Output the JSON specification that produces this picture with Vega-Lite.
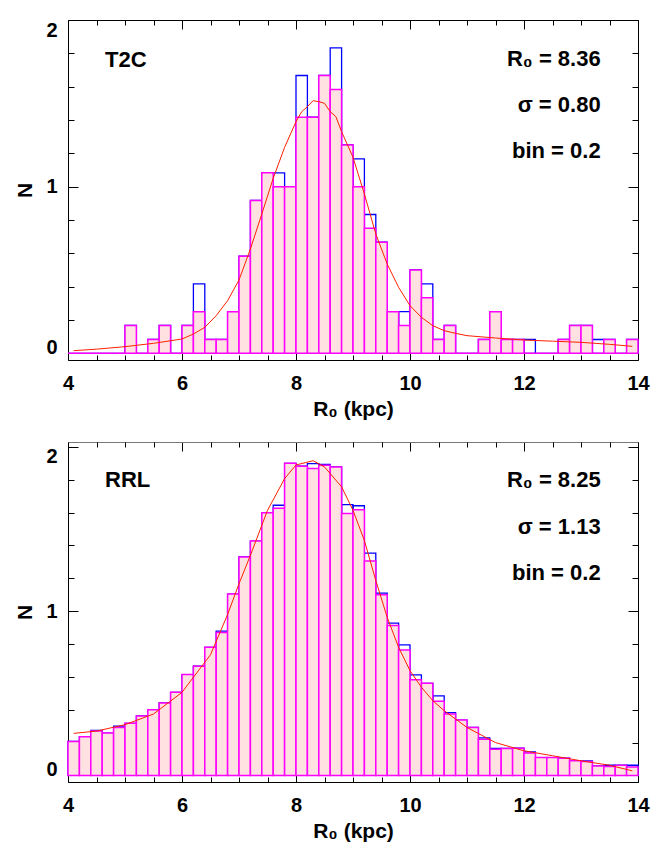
{
  "$schema": "https://vega.github.io/schema/vega-lite/v6.json",
  "background": "white",
  "padding": {"left": 14, "top": 19, "right": 5, "bottom": 5},
  "bounds": "flush",
  "spacing": 82,
  "config": {
    "view": {"stroke": null},
    "font": "Liberation Sans",
    "axis": {
      "domainColor": "#000", "tickColor": "#000", "labelColor": "#000", "titleColor": "#000",
      "labelFont": "Liberation Sans", "titleFont": "Liberation Sans",
      "labelFontWeight": "bold", "titleFontWeight": "bold",
      "labelFontSize": 20, "titleFontSize": 21, "grid": false, "format": "d",
      "tickWidth": 1, "domainWidth": 1, "labelFlush": false, "labelOverlap": false
    }
  },
  "datasets": {
    "t2c": [
      {"x0": 4.0, "x1": 4.2, "pink": 0, "blue": 0},
      {"x0": 4.2, "x1": 4.4, "pink": 0, "blue": 0},
      {"x0": 4.4, "x1": 4.6, "pink": 0, "blue": 0},
      {"x0": 4.6, "x1": 4.8, "pink": 0, "blue": 0},
      {"x0": 4.8, "x1": 5.0, "pink": 0, "blue": 0},
      {"x0": 5.0, "x1": 5.2, "pink": 0.167, "blue": 0.167},
      {"x0": 5.2, "x1": 5.4, "pink": 0, "blue": 0},
      {"x0": 5.4, "x1": 5.6, "pink": 0.083, "blue": 0.083},
      {"x0": 5.6, "x1": 5.8, "pink": 0.167, "blue": 0.167},
      {"x0": 5.8, "x1": 6.0, "pink": 0, "blue": 0},
      {"x0": 6.0, "x1": 6.2, "pink": 0.167, "blue": 0.167},
      {"x0": 6.2, "x1": 6.4, "pink": 0.25, "blue": 0.417},
      {"x0": 6.4, "x1": 6.6, "pink": 0.083, "blue": 0.083},
      {"x0": 6.6, "x1": 6.8, "pink": 0.083, "blue": 0.083},
      {"x0": 6.8, "x1": 7.0, "pink": 0.25, "blue": 0.25},
      {"x0": 7.0, "x1": 7.2, "pink": 0.583, "blue": 0.583},
      {"x0": 7.2, "x1": 7.4, "pink": 0.917, "blue": 0.917},
      {"x0": 7.4, "x1": 7.6, "pink": 1.083, "blue": 1.083},
      {"x0": 7.6, "x1": 7.8, "pink": 1.0, "blue": 1.083},
      {"x0": 7.8, "x1": 8.0, "pink": 1.0, "blue": 1.0},
      {"x0": 8.0, "x1": 8.2, "pink": 1.417, "blue": 1.667},
      {"x0": 8.2, "x1": 8.4, "pink": 1.417, "blue": 1.417},
      {"x0": 8.4, "x1": 8.6, "pink": 1.667, "blue": 1.667},
      {"x0": 8.6, "x1": 8.8, "pink": 1.583, "blue": 1.833},
      {"x0": 8.8, "x1": 9.0, "pink": 1.25, "blue": 1.25},
      {"x0": 9.0, "x1": 9.2, "pink": 1.0, "blue": 1.167},
      {"x0": 9.2, "x1": 9.4, "pink": 0.75, "blue": 0.833},
      {"x0": 9.4, "x1": 9.6, "pink": 0.667, "blue": 0.667},
      {"x0": 9.6, "x1": 9.8, "pink": 0.25, "blue": 0.25},
      {"x0": 9.8, "x1": 10.0, "pink": 0.167, "blue": 0.25},
      {"x0": 10.0, "x1": 10.2, "pink": 0.5, "blue": 0.5},
      {"x0": 10.2, "x1": 10.4, "pink": 0.333, "blue": 0.417},
      {"x0": 10.4, "x1": 10.6, "pink": 0.083, "blue": 0.083},
      {"x0": 10.6, "x1": 10.8, "pink": 0.167, "blue": 0.167},
      {"x0": 10.8, "x1": 11.0, "pink": 0, "blue": 0},
      {"x0": 11.0, "x1": 11.2, "pink": 0, "blue": 0},
      {"x0": 11.2, "x1": 11.4, "pink": 0.083, "blue": 0.083},
      {"x0": 11.4, "x1": 11.6, "pink": 0.25, "blue": 0.25},
      {"x0": 11.6, "x1": 11.8, "pink": 0.083, "blue": 0.083},
      {"x0": 11.8, "x1": 12.0, "pink": 0.083, "blue": 0.083},
      {"x0": 12.0, "x1": 12.2, "pink": 0, "blue": 0.083},
      {"x0": 12.2, "x1": 12.4, "pink": 0, "blue": 0},
      {"x0": 12.4, "x1": 12.6, "pink": 0, "blue": 0},
      {"x0": 12.6, "x1": 12.8, "pink": 0.083, "blue": 0.083},
      {"x0": 12.8, "x1": 13.0, "pink": 0.167, "blue": 0.167},
      {"x0": 13.0, "x1": 13.2, "pink": 0.167, "blue": 0.167},
      {"x0": 13.2, "x1": 13.4, "pink": 0, "blue": 0.083},
      {"x0": 13.4, "x1": 13.6, "pink": 0.083, "blue": 0.083},
      {"x0": 13.6, "x1": 13.8, "pink": 0, "blue": 0},
      {"x0": 13.8, "x1": 14.0, "pink": 0.083, "blue": 0.083}
    ],
    "t2cfit": [
      {"x": 4.1, "y": 0.016}, {"x": 4.5, "y": 0.025}, {"x": 5.0, "y": 0.04}, {"x": 5.5, "y": 0.06},
      {"x": 6.0, "y": 0.086}, {"x": 6.2, "y": 0.116}, {"x": 6.4, "y": 0.156}, {"x": 6.6, "y": 0.226},
      {"x": 6.8, "y": 0.316}, {"x": 7.0, "y": 0.44}, {"x": 7.2, "y": 0.626}, {"x": 7.4, "y": 0.836},
      {"x": 7.6, "y": 1.05}, {"x": 7.8, "y": 1.236}, {"x": 8.0, "y": 1.39}, {"x": 8.1, "y": 1.45},
      {"x": 8.2, "y": 1.48}, {"x": 8.3, "y": 1.516}, {"x": 8.4, "y": 1.51}, {"x": 8.5, "y": 1.5},
      {"x": 8.6, "y": 1.45}, {"x": 8.7, "y": 1.42}, {"x": 8.8, "y": 1.33}, {"x": 9.0, "y": 1.176},
      {"x": 9.2, "y": 0.956}, {"x": 9.4, "y": 0.716}, {"x": 9.6, "y": 0.536}, {"x": 9.8, "y": 0.396},
      {"x": 10.0, "y": 0.286}, {"x": 10.2, "y": 0.216}, {"x": 10.4, "y": 0.166}, {"x": 10.6, "y": 0.136},
      {"x": 10.8, "y": 0.12}, {"x": 11.0, "y": 0.106}, {"x": 11.5, "y": 0.092}, {"x": 12.0, "y": 0.08},
      {"x": 12.5, "y": 0.073}, {"x": 13.0, "y": 0.066}, {"x": 13.5, "y": 0.054}, {"x": 13.9, "y": 0.042}
    ],
    "t2cname": [{"x": 4.65, "y": 1.716, "label": "T2C"}],
    "t2cstats": [
      {"x": 13.345, "y": 1.724, "label": "R₀ = 8.36"},
      {"x": 13.345, "y": 1.446, "label": "σ = 0.80"},
      {"x": 13.345, "y": 1.172, "label": "bin = 0.2"}
    ],
    "rrl": [
      {"x0": 4.0, "x1": 4.2, "pink": 0.207, "blue": 0.207},
      {"x0": 4.2, "x1": 4.4, "pink": 0.235, "blue": 0.235},
      {"x0": 4.4, "x1": 4.6, "pink": 0.27, "blue": 0.274},
      {"x0": 4.6, "x1": 4.8, "pink": 0.258, "blue": 0.258},
      {"x0": 4.8, "x1": 5.0, "pink": 0.292, "blue": 0.3},
      {"x0": 5.0, "x1": 5.2, "pink": 0.317, "blue": 0.317},
      {"x0": 5.2, "x1": 5.4, "pink": 0.362, "blue": 0.362},
      {"x0": 5.4, "x1": 5.6, "pink": 0.4, "blue": 0.4},
      {"x0": 5.6, "x1": 5.8, "pink": 0.441, "blue": 0.441},
      {"x0": 5.8, "x1": 6.0, "pink": 0.506, "blue": 0.506},
      {"x0": 6.0, "x1": 6.2, "pink": 0.614, "blue": 0.614},
      {"x0": 6.2, "x1": 6.4, "pink": 0.665, "blue": 0.665},
      {"x0": 6.4, "x1": 6.6, "pink": 0.78, "blue": 0.78},
      {"x0": 6.6, "x1": 6.8, "pink": 0.87, "blue": 0.878},
      {"x0": 6.8, "x1": 7.0, "pink": 1.104, "blue": 1.104},
      {"x0": 7.0, "x1": 7.2, "pink": 1.33, "blue": 1.33},
      {"x0": 7.2, "x1": 7.4, "pink": 1.427, "blue": 1.427},
      {"x0": 7.4, "x1": 7.6, "pink": 1.6, "blue": 1.6},
      {"x0": 7.6, "x1": 7.8, "pink": 1.626, "blue": 1.645},
      {"x0": 7.8, "x1": 8.0, "pink": 1.9, "blue": 1.9},
      {"x0": 8.0, "x1": 8.2, "pink": 1.883, "blue": 1.883},
      {"x0": 8.2, "x1": 8.4, "pink": 1.868, "blue": 1.898},
      {"x0": 8.4, "x1": 8.6, "pink": 1.888, "blue": 1.894},
      {"x0": 8.6, "x1": 8.8, "pink": 1.878, "blue": 1.878},
      {"x0": 8.8, "x1": 9.0, "pink": 1.594, "blue": 1.649},
      {"x0": 9.0, "x1": 9.2, "pink": 1.618, "blue": 1.642},
      {"x0": 9.2, "x1": 9.4, "pink": 1.306, "blue": 1.354},
      {"x0": 9.4, "x1": 9.6, "pink": 1.1, "blue": 1.11},
      {"x0": 9.6, "x1": 9.8, "pink": 0.913, "blue": 0.927},
      {"x0": 9.8, "x1": 10.0, "pink": 0.764, "blue": 0.795},
      {"x0": 10.0, "x1": 10.2, "pink": 0.582, "blue": 0.612},
      {"x0": 10.2, "x1": 10.4, "pink": 0.561, "blue": 0.561},
      {"x0": 10.4, "x1": 10.6, "pink": 0.451, "blue": 0.484},
      {"x0": 10.6, "x1": 10.8, "pink": 0.374, "blue": 0.382},
      {"x0": 10.8, "x1": 11.0, "pink": 0.337, "blue": 0.337},
      {"x0": 11.0, "x1": 11.2, "pink": 0.292, "blue": 0.292},
      {"x0": 11.2, "x1": 11.4, "pink": 0.221, "blue": 0.229},
      {"x0": 11.4, "x1": 11.6, "pink": 0.16, "blue": 0.164},
      {"x0": 11.6, "x1": 11.8, "pink": 0.164, "blue": 0.164},
      {"x0": 11.8, "x1": 12.0, "pink": 0.166, "blue": 0.166},
      {"x0": 12.0, "x1": 12.2, "pink": 0.136, "blue": 0.144},
      {"x0": 12.2, "x1": 12.4, "pink": 0.109, "blue": 0.109},
      {"x0": 12.4, "x1": 12.6, "pink": 0.109, "blue": 0.109},
      {"x0": 12.6, "x1": 12.8, "pink": 0.105, "blue": 0.105},
      {"x0": 12.8, "x1": 13.0, "pink": 0.089, "blue": 0.089},
      {"x0": 13.0, "x1": 13.2, "pink": 0.085, "blue": 0.089},
      {"x0": 13.2, "x1": 13.4, "pink": 0.058, "blue": 0.058},
      {"x0": 13.4, "x1": 13.6, "pink": 0.054, "blue": 0.062},
      {"x0": 13.6, "x1": 13.8, "pink": 0.062, "blue": 0.062},
      {"x0": 13.8, "x1": 14.0, "pink": 0.052, "blue": 0.062}
    ],
    "rrlfit": [
      {"x": 4.1, "y": 0.256}, {"x": 4.5, "y": 0.27}, {"x": 5.0, "y": 0.309}, {"x": 5.5, "y": 0.374},
      {"x": 6.0, "y": 0.506}, {"x": 6.5, "y": 0.735}, {"x": 6.8, "y": 0.98}, {"x": 7.0, "y": 1.167},
      {"x": 7.2, "y": 1.34}, {"x": 7.5, "y": 1.614}, {"x": 7.8, "y": 1.807}, {"x": 8.0, "y": 1.89},
      {"x": 8.3, "y": 1.916}, {"x": 8.5, "y": 1.878}, {"x": 8.8, "y": 1.757}, {"x": 9.0, "y": 1.614},
      {"x": 9.2, "y": 1.43}, {"x": 9.4, "y": 1.187}, {"x": 9.6, "y": 0.963}, {"x": 9.8, "y": 0.78},
      {"x": 10.0, "y": 0.638}, {"x": 10.2, "y": 0.537}, {"x": 10.4, "y": 0.455}, {"x": 10.6, "y": 0.394},
      {"x": 10.8, "y": 0.343}, {"x": 11.0, "y": 0.292}, {"x": 11.5, "y": 0.2}, {"x": 12.0, "y": 0.15},
      {"x": 12.5, "y": 0.12}, {"x": 13.0, "y": 0.089}, {"x": 13.5, "y": 0.062}, {"x": 13.9, "y": 0.028}
    ],
    "rrlname": [{"x": 4.65, "y": 1.757, "label": "RRL"}],
    "rrlstats": [
      {"x": 13.345, "y": 1.757, "label": "R₀ = 8.25"},
      {"x": 13.345, "y": 1.472, "label": "σ = 1.13"},
      {"x": 13.345, "y": 1.19, "label": "bin = 0.2"}
    ]
  },
  "vconcat": [
    {
      "width": 570, "height": 340,
      "resolve": {"axis": {"x": "independent", "y": "independent"}},
      "layer": [
        {
          "data": {"name": "t2c"},
          "mark": {"type": "rect", "fillOpacity": 0, "stroke": "#0000ff", "strokeWidth": 1.3},
          "encoding": {
            "x": {"field": "x0", "type": "quantitative", "scale": {"domain": [4, 14], "nice": false, "zero": false},
                  "axis": {"orient": "bottom", "values": [4, 6, 8, 10, 12, 14], "tickSize": -9, "labelPadding": 22, "title": "R₀ (kpc)", "titlePadding": 5}},
            "x2": {"field": "x1"},
            "y": {"field": "blue", "type": "quantitative", "scale": {"domain": [-0.04, 2], "nice": false, "zero": false},
                  "axis": {"orient": "left", "values": [0, 1, 2], "tickSize": -10, "labelPadding": 21, "title": "N", "titlePadding": 10,
                           "labelBaseline": {"condition": [{"test": "datum.value == 0", "value": "alphabetic"}, {"test": "datum.value == 2", "value": "top"}], "value": "middle"}}},
            "y2": {"datum": 0}
          }
        },
        {
          "data": {"name": "t2c"},
          "mark": {"type": "rect", "fill": "#ffe1e1", "stroke": "#ff00ff", "strokeWidth": 1.5},
          "encoding": {
            "x": {"field": "x0", "type": "quantitative",
                  "axis": {"orient": "bottom", "values": [4.5, 5, 5.5, 6.5, 7, 7.5, 8.5, 9, 9.5, 10.5, 11, 11.5, 12.5, 13, 13.5], "tickSize": -5, "labels": false, "domain": false, "title": null}},
            "x2": {"field": "x1"},
            "y": {"field": "pink", "type": "quantitative",
                  "axis": {"orient": "left", "values": [0.2, 0.4, 0.6, 0.8, 1.2, 1.4, 1.6, 1.8], "tickSize": -6, "labels": false, "domain": false, "title": null}},
            "y2": {"datum": 0}
          }
        },
        {
          "data": {"name": "t2cfit"},
          "mark": {"type": "line", "color": "#ff2000", "strokeWidth": 1},
          "encoding": {
            "x": {"field": "x", "type": "quantitative",
                  "axis": {"orient": "top", "values": [4, 6, 8, 10, 12, 14], "tickSize": -9, "labels": false, "title": null}},
            "y": {"field": "y", "type": "quantitative",
                  "axis": {"orient": "right", "values": [0, 1, 2], "tickSize": -10, "labels": false, "title": null}}
          }
        },
        {
          "data": {"name": "t2cname"},
          "mark": {"type": "text", "align": "left", "baseline": "alphabetic", "fontSize": 22, "fontWeight": "bold", "font": "Liberation Sans", "color": "#000"},
          "encoding": {
            "x": {"field": "x", "type": "quantitative",
                  "axis": {"orient": "top", "values": [4.5, 5, 5.5, 6.5, 7, 7.5, 8.5, 9, 9.5, 10.5, 11, 11.5, 12.5, 13, 13.5], "tickSize": -5, "labels": false, "domain": false, "title": null}},
            "y": {"field": "y", "type": "quantitative",
                  "axis": {"orient": "right", "values": [0.2, 0.4, 0.6, 0.8, 1.2, 1.4, 1.6, 1.8], "tickSize": -6, "labels": false, "domain": false, "title": null}},
            "text": {"field": "label"}
          }
        },
        {
          "data": {"name": "t2cstats"},
          "mark": {"type": "text", "align": "right", "baseline": "alphabetic", "fontSize": 22, "fontWeight": "bold", "font": "Liberation Sans", "color": "#000"},
          "encoding": {
            "x": {"field": "x", "type": "quantitative", "axis": null},
            "y": {"field": "y", "type": "quantitative", "axis": null},
            "text": {"field": "label"}
          }
        }
      ]
    },
    {
      "width": 570, "height": 340,
      "resolve": {"axis": {"x": "independent", "y": "independent"}},
      "layer": [
        {
          "data": {"name": "rrl"},
          "mark": {"type": "rect", "fillOpacity": 0, "stroke": "#0000ff", "strokeWidth": 1.3},
          "encoding": {
            "x": {"field": "x0", "type": "quantitative", "scale": {"domain": [4, 14], "nice": false, "zero": false},
                  "axis": {"orient": "bottom", "values": [4, 6, 8, 10, 12, 14], "tickSize": -9, "labelPadding": 22, "title": "R₀ (kpc)", "titlePadding": 5}},
            "x2": {"field": "x1"},
            "y": {"field": "blue", "type": "quantitative", "scale": {"domain": [-0.04, 2.03], "nice": false, "zero": false},
                  "axis": {"orient": "left", "values": [0, 1, 2], "tickSize": -10, "labelPadding": 21, "title": "N", "titlePadding": 10,
                           "labelBaseline": {"condition": [{"test": "datum.value == 0", "value": "alphabetic"}, {"test": "datum.value == 2", "value": "top"}], "value": "middle"}}},
            "y2": {"datum": 0}
          }
        },
        {
          "data": {"name": "rrl"},
          "mark": {"type": "rect", "fill": "#ffe1e1", "stroke": "#ff00ff", "strokeWidth": 1.5},
          "encoding": {
            "x": {"field": "x0", "type": "quantitative",
                  "axis": {"orient": "bottom", "values": [4.5, 5, 5.5, 6.5, 7, 7.5, 8.5, 9, 9.5, 10.5, 11, 11.5, 12.5, 13, 13.5], "tickSize": -5, "labels": false, "domain": false, "title": null}},
            "x2": {"field": "x1"},
            "y": {"field": "pink", "type": "quantitative",
                  "axis": {"orient": "left", "values": [0.2, 0.4, 0.6, 0.8, 1.2, 1.4, 1.6, 1.8], "tickSize": -6, "labels": false, "domain": false, "title": null}},
            "y2": {"datum": 0}
          }
        },
        {
          "data": {"name": "rrlfit"},
          "mark": {"type": "line", "color": "#ff2000", "strokeWidth": 1},
          "encoding": {
            "x": {"field": "x", "type": "quantitative",
                  "axis": {"orient": "top", "values": [4, 6, 8, 10, 12, 14], "tickSize": -9, "labels": false, "title": null, "domainColor": "#777"}},
            "y": {"field": "y", "type": "quantitative",
                  "axis": {"orient": "right", "values": [0, 1, 2], "tickSize": -10, "labels": false, "title": null}}
          }
        },
        {
          "data": {"name": "rrlname"},
          "mark": {"type": "text", "align": "left", "baseline": "alphabetic", "fontSize": 22, "fontWeight": "bold", "font": "Liberation Sans", "color": "#000"},
          "encoding": {
            "x": {"field": "x", "type": "quantitative",
                  "axis": {"orient": "top", "values": [4.5, 5, 5.5, 6.5, 7, 7.5, 8.5, 9, 9.5, 10.5, 11, 11.5, 12.5, 13, 13.5], "tickSize": -5, "labels": false, "domain": false, "title": null}},
            "y": {"field": "y", "type": "quantitative",
                  "axis": {"orient": "right", "values": [0.2, 0.4, 0.6, 0.8, 1.2, 1.4, 1.6, 1.8], "tickSize": -6, "labels": false, "domain": false, "title": null}},
            "text": {"field": "label"}
          }
        },
        {
          "data": {"name": "rrlstats"},
          "mark": {"type": "text", "align": "right", "baseline": "alphabetic", "fontSize": 22, "fontWeight": "bold", "font": "Liberation Sans", "color": "#000"},
          "encoding": {
            "x": {"field": "x", "type": "quantitative", "axis": null},
            "y": {"field": "y", "type": "quantitative", "axis": null},
            "text": {"field": "label"}
          }
        }
      ]
    }
  ]
}
